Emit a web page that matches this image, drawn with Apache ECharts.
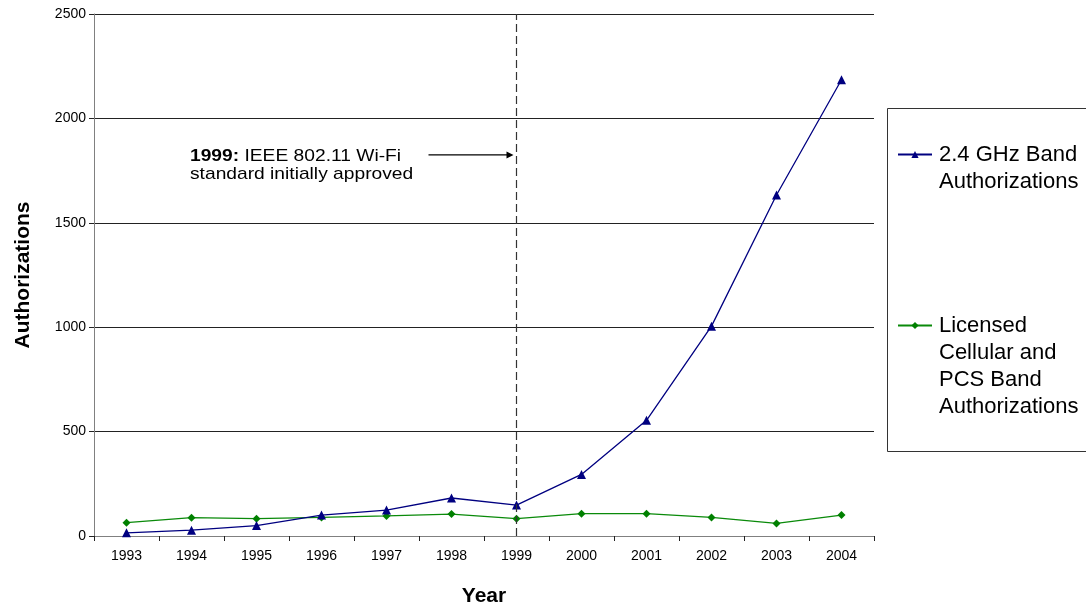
<!DOCTYPE html>
<html>
<head>
<meta charset="utf-8">
<script src="https://cdn.jsdelivr.net/npm/echarts@6/dist/echarts.min.js"></script>
<style>
  html, body { margin: 0; padding: 0; background: #fff; }
  #chart { width: 1086px; height: 609px; }
</style>
</head>
<body>
<div id="chart"></div>
<script>
// Yearly equipment authorizations
const years = ['1993', '1994', '1995', '1996', '1997', '1998', '1999', '2000', '2001', '2002', '2003', '2004'];
const wifiBand = [15, 28, 50, 100, 124, 182, 148, 295, 554, 1005, 1633, 2185];
const licensedBand = [64, 88, 83, 89, 96, 105, 83, 107, 107, 89, 60, 100];
const yTicks = { min: 0, max: 2500, interval: 500 };

const wifiLines = ['2.4 GHz Band', 'Authorizations'];
const licensedLines = ['Licensed', 'Cellular and', 'PCS Band', 'Authorizations'];
const wifiName = wifiLines.join('\n');
const licensedName = licensedLines.join('\n');
const milestoneYear = '1999';
const milestoneLevel = 1825;

const FONT = '"Liberation Sans", Arial, sans-serif';
const LEGEND_LH = 27;

// Legend text is centred on its icon; blank lines on top keep the icon beside the first line
function legendLabel(name) {
  const lines = name.split('\n');
  const pad = new Array(lines.length - 1).fill(' ');
  return pad.concat(lines).join('\n');
}

const chart = echarts.init(document.getElementById('chart'), null, { renderer: 'canvas' });

chart.setOption({
  animation: false,
  backgroundColor: '#fff',
  textStyle: { fontFamily: FONT, color: '#000' },
  grid: { left: 94, right: 212, top: 14, bottom: 73, containLabel: false, outerBoundsMode: 'none' },
  xAxis: {
    type: 'category',
    data: years,
    boundaryGap: true,
    name: 'Year',
    nameLocation: 'middle',
    nameGap: 50,
    nameTextStyle: { fontSize: 21, fontWeight: 'bold', color: '#000', fontFamily: FONT },
    axisLine: { lineStyle: { color: '#808080', width: 1 } },
    axisTick: { show: true, length: 5, inside: false, alignWithLabel: false, lineStyle: { color: '#222' } },
    axisLabel: { fontSize: 14, color: '#000', margin: 13, fontFamily: FONT },
    splitLine: { show: false }
  },
  yAxis: {
    type: 'value',
    min: yTicks.min,
    max: yTicks.max,
    interval: yTicks.interval,
    name: 'Authorizations',
    nameLocation: 'middle',
    nameRotate: 90,
    nameGap: 60,
    nameTextStyle: { fontSize: 21, fontWeight: 'bold', color: '#000', fontFamily: FONT },
    axisLine: { show: true, lineStyle: { color: '#808080', width: 1 } },
    axisTick: { show: true, length: 5, inside: false, lineStyle: { color: '#222' } },
    axisLabel: { fontSize: 14, color: '#000', margin: 8, fontFamily: FONT, formatter: v => String(v) },
    splitLine: { show: true, lineStyle: { color: '#222', width: 1 } }
  },
  legend: {
    orient: 'vertical',
    left: 897,
    top: 114,
    itemGap: 36,
    itemWidth: 34,
    itemHeight: 9,
    padding: 0,
    selectedMode: false,
    formatter: legendLabel,
    textStyle: { fontSize: 22, lineHeight: LEGEND_LH, color: '#000', fontFamily: FONT, padding: [0, 0, 0, 2] },
    data: [wifiName, licensedName]
  },
  series: [
    {
      name: wifiName,
      type: 'line',
      data: wifiBand,
      symbol: 'triangle',
      symbolSize: 9,
      showAllSymbol: true,
      color: '#000080',
      lineStyle: { color: '#000080', width: 1.3 },
      itemStyle: { color: '#000080' },
      z: 3,
      markLine: {
        silent: true,
        symbol: ['none', 'none'],
        label: { show: false },
        lineStyle: { color: '#333', width: 1.2, type: [8, 4] },
        data: [{ xAxis: milestoneYear }]
      }
    },
    {
      name: licensedName,
      type: 'line',
      data: licensedBand,
      symbol: 'diamond',
      symbolSize: 8,
      showAllSymbol: true,
      color: '#008000',
      lineStyle: { color: '#0a8a0a', width: 1.3 },
      itemStyle: { color: '#008000' },
      z: 2
    }
  ]
});

// Legend frame and the Wi-Fi standard annotation, anchored to the 1999 category
function drawAnnotation() {
  const tipX = chart.convertToPixel({ xAxisIndex: 0 }, milestoneYear) - 3;
  const tipY = chart.convertToPixel({ yAxisIndex: 0 }, milestoneLevel);
  const tailX = tipX - 85;
  chart.setOption({
    graphic: [
      {
        type: 'rect',
        silent: true,
        shape: { x: 887.5, y: 108.5, width: 260, height: 343 },
        style: { fill: 'none', stroke: '#333', lineWidth: 1 },
        z: 0
      },
      {
        type: 'text',
        silent: true,
        x: 190,
        y: tipY - 8,
        scaleX: 1.13,
        style: {
          text: '{b|1999:} IEEE 802.11 Wi-Fi\nstandard initially approved',
          font: '17px ' + FONT,
          fill: '#000',
          lineHeight: 18,
          rich: {
            b: { fontWeight: 'bold', fontSize: 17, fontFamily: FONT, lineHeight: 18 }
          }
        }
      },
      {
        type: 'line',
        silent: true,
        shape: { x1: tailX, y1: tipY, x2: tipX - 5, y2: tipY },
        style: { stroke: '#000', lineWidth: 1.2 }
      },
      {
        type: 'polygon',
        silent: true,
        shape: { points: [[tipX, tipY], [tipX - 7, tipY - 3.5], [tipX - 7, tipY + 3.5]] },
        style: { fill: '#000' }
      }
    ]
  });
}
drawAnnotation();
</script>
</body>
</html>
